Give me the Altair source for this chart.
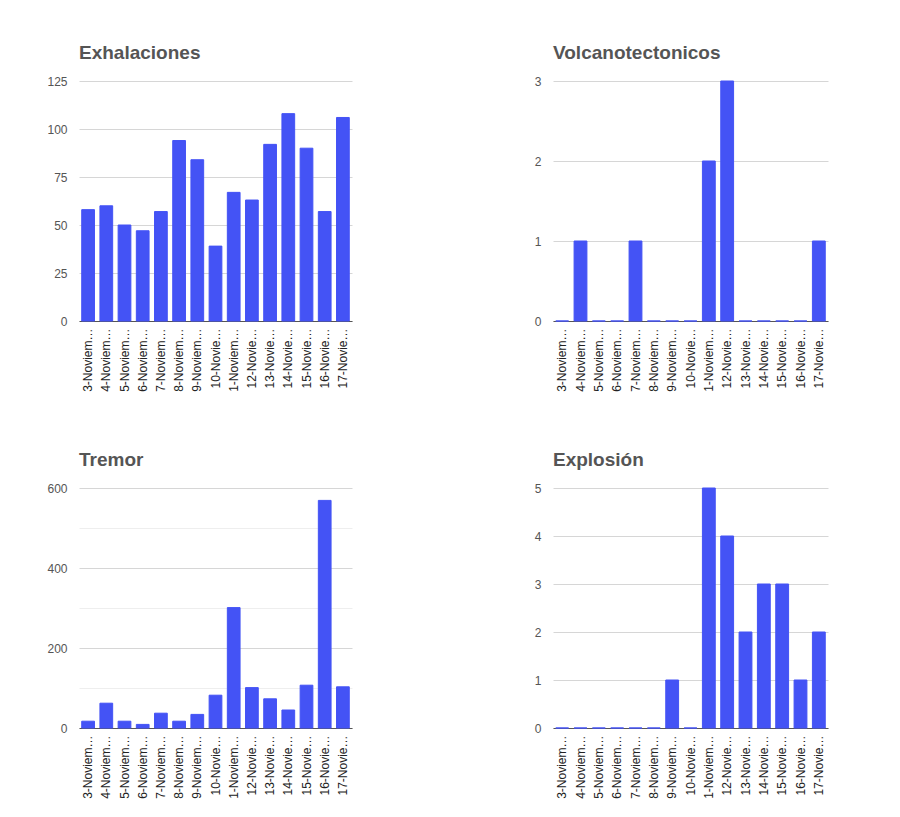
import altair as alt
import pandas as pd

fechas = ["3-Noviembre", "4-Noviembre", "5-Noviembre", "6-Noviembre", "7-Noviembre",
          "8-Noviembre", "9-Noviembre", "10-Noviembre", "1-Noviembre", "12-Noviembre",
          "13-Noviembre", "14-Noviembre", "15-Noviembre", "16-Noviembre", "17-Noviembre"]

exhalaciones = [58, 60, 50, 47, 57, 94, 84, 39, 67, 63, 92, 108, 90, 57, 106]
volcanotectonicos = [0, 1, 0, 0, 1, 0, 0, 0, 2, 3, 0, 0, 0, 0, 1]
tremor = [17, 62, 17, 9, 37, 17, 34, 82, 301, 101, 73, 45, 107, 569, 103]
explosion = [0, 0, 0, 0, 0, 0, 1, 0, 5, 4, 2, 3, 3, 1, 2]

exh_ticks = [0, 25, 50, 75, 100, 125]
vt_ticks = [0, 0.5, 1, 1.5, 2, 2.5, 3]
tre_ticks = [0, 100, 200, 300, 400, 500, 600]
exp_ticks = [0, 0.5, 1, 1.5, 2, 2.5, 3, 3.5, 4, 4.5, 5]

FONT = "Liberation Sans, Arial, sans-serif"
BAR = "#4453f5"


def panel(title, values, ticks, major_step, width, extent, lpad):
    df = pd.DataFrame({"fecha": fechas, "valor": values})
    minor_test = f"datum.value % {major_step} != 0"
    return alt.Chart(df).mark_bar(color=BAR, stroke=BAR, strokeWidth=1).encode(
        x=alt.X("fecha:N", sort=fechas, title=None,
                scale=alt.Scale(paddingInner=0.3, paddingOuter=0.15),
                axis=alt.Axis(labelAngle=-90, labelLimit=66, labelFontSize=12,
                              labelColor="#222222", labelFont=FONT, ticks=False,
                              domainColor="#555555", labelPadding=7, grid=False)),
        y=alt.Y("valor:Q", title=None,
                scale=alt.Scale(domain=[ticks[0], ticks[-1]], nice=False),
                axis=alt.Axis(values=ticks, ticks=False, domain=False, format="d",
                              labelFontSize=12, labelColor="#555555", labelFont=FONT,
                              labelPadding=lpad, minExtent=extent,
                              labelExpr=f"({minor_test}) ? '' : datum.label",
                              gridColor={"condition": {"test": minor_test, "value": "#eeeeee"},
                                         "value": "#d6d6d6"})),
    ).properties(
        width=width, height=240,
        title=alt.TitleParams(title, anchor="start", frame="group", fontSize=19,
                              fontWeight="bold", color="#555555", font=FONT,
                              baseline="alphabetic", offset=-3),
    )


p1 = panel("Exhalaciones", exhalaciones, exh_ticks, 25, 273, 66, 12)
p2 = panel("Volcanotectonicos", volcanotectonicos, vt_ticks, 1, 275, 40, 12)
p3 = panel("Tremor", tremor, tre_ticks, 200, 273, 66, 12)
p4 = panel("Explosión", explosion, exp_ticks, 1, 275, 40, 12)

chart = alt.vconcat(
    alt.hconcat(p1, p2, spacing=161),
    alt.hconcat(p3, p4, spacing=161),
    spacing=59,
    padding={"left": 5, "top": 36, "right": 5, "bottom": 5},
    background="white",
).configure_view(stroke=None)

chart.save("out.html", embed_options={"renderer": "svg", "actions": False})
